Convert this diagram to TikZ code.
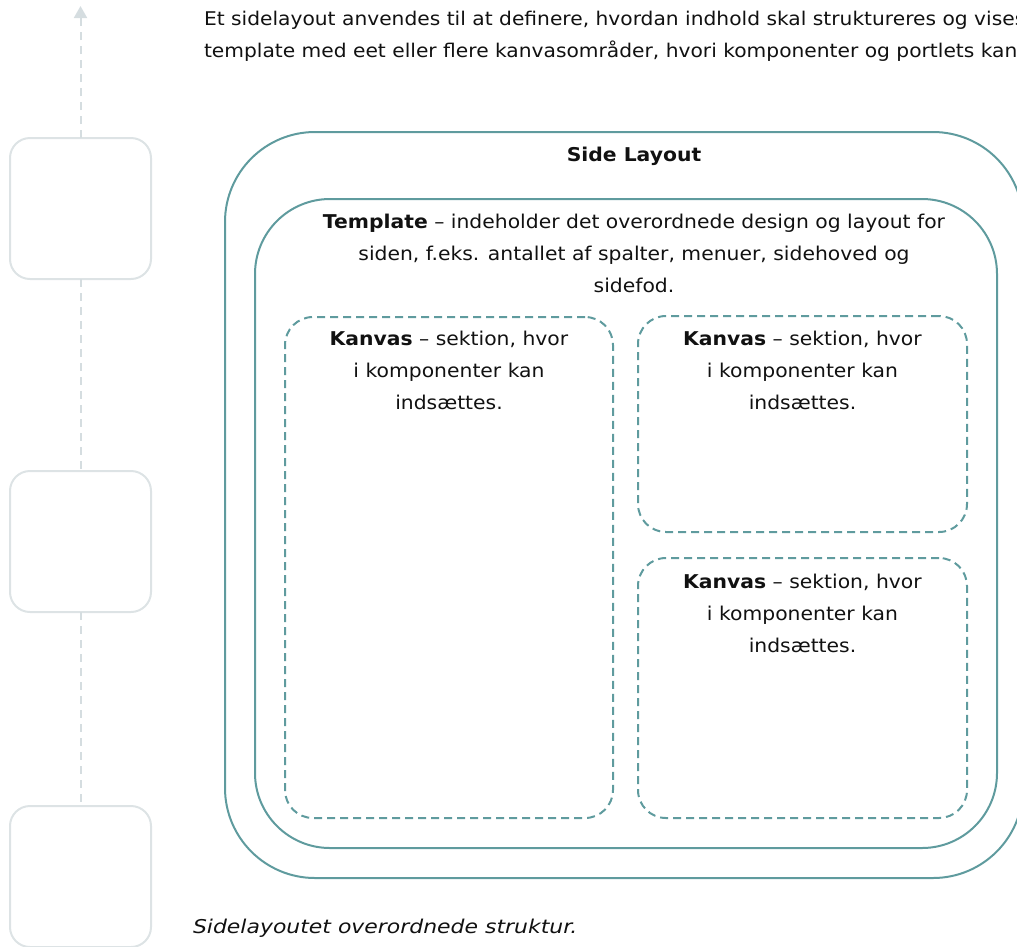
\documentclass[tikz,border=0pt]{standalone}
\usepackage{fontspec}
\setmainfont[FakeStretch=1.07]{DejaVu Sans}
\newfontfamily\capfont[FakeStretch=1.155]{DejaVu Sans}
\usetikzlibrary{arrows.meta}
\definecolor{tealline}{RGB}{95,155,158}
\definecolor{greybox}{RGB}{221,227,229}
\definecolor{greyline}{RGB}{213,221,224}
\definecolor{ink}{RGB}{17,17,17}
\begin{document}
\begin{tikzpicture}[x=1pt,y=-1pt,
  every node/.style={inner sep=0pt, outer sep=0pt, text=ink},
  txt/.style={font=\fontsize{19}{31.8}\selectfont, align=center, anchor=base},
  ltxt/.style={font=\fontsize{19}{31.8}\selectfont, align=left, anchor=base west},
  sidebox/.style={draw=greybox, line width=2pt, rounded corners=20pt, minimum width=141pt, minimum height=141pt},
  vline/.style={draw=greyline, line width=2pt, dash pattern=on 8pt off 6pt},
  solidbox/.style={draw=tealline, line width=2pt},
  kanvasbox/.style={draw=tealline, line width=2pt, dash pattern=on 8pt off 5pt, rounded corners=28pt}
]
\useasboundingbox (0,0) rectangle (1017,946);
\clip (0,0) rectangle (1017,946);

% left timeline
\node[sidebox] (b1) at (80.5,208.5) {};
\node[sidebox] (b2) at (80.5,541.5) {};
\node[sidebox] (b3) at (80.5,876.5) {};
\coordinate (top) at (80.5,6);
\draw[vline, -{Triangle[length=12pt,width=13pt,fill=greyline]}] (b1.north) -- (top);
\draw[vline] (b1.south) -- (b2.north);
\draw[vline] (b2.south) -- (b3.north);

% intro text (anchor = baseline of last line)
\node[ltxt, font=\fontsize{18.9}{31.8}\selectfont] (intro) at (204,57) {Et sidelayout anvendes til at definere, hvordan indhold skal struktureres og vises\\template med eet eller flere kanvasområder, hvori komponenter og portlets kan};

% boxes
\node[solidbox, rounded corners=90pt, minimum width=798pt, minimum height=746pt] (outer) at (624,505) {};
\node[solidbox, rounded corners=75pt, minimum width=742pt, minimum height=649pt] (template) at (626,523.5) {};
\node[kanvasbox, minimum width=328pt, minimum height=501pt] (k1) at (449,567.5) {};
\node[kanvasbox, minimum width=329pt, minimum height=216pt] (k2) at (802.5,424) {};
\node[kanvasbox, minimum width=329pt, minimum height=260pt] (k3) at (802.5,688) {};

% texts
\node[txt] (sl) at (634,161) {\textbf{Side Layout}};
\node[txt] (tt) at (634,292.5) {\textbf{Template} – indeholder det overordnede design og layout for\\siden, f.eks. antallet af spalter, menuer, sidehoved og\\sidefod.};
\node[txt] (k1t) at (449,409) {\textbf{Kanvas} – sektion, hvor\\i komponenter kan\\indsættes.};
\node[txt] (k2t) at (802.5,409) {\textbf{Kanvas} – sektion, hvor\\i komponenter kan\\indsættes.};
\node[txt] (k3t) at (802.5,652) {\textbf{Kanvas} – sektion, hvor\\i komponenter kan\\indsættes.};

\node[ltxt, font=\capfont\fontsize{19}{31.8}\selectfont] (cap) at (193,933) {\itshape Sidelayoutet overordnede struktur.};
\end{tikzpicture}
\end{document}
